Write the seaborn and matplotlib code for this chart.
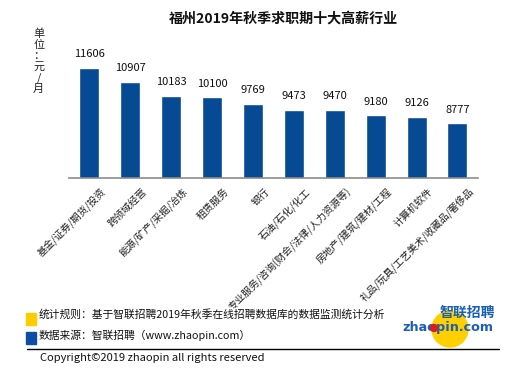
import matplotlib
matplotlib.use('Agg')
import matplotlib.pyplot as plt
import matplotlib.patches as mpatches
import matplotlib.transforms as mtransforms
import seaborn as sns
import pandas as pd

# 数据
industries = ['基金/证券/期货/投资', '跨领域经营', '能源/矿产/采掘/冶炼', '租赁服务', '银行',
              '石油/石化/化工', '专业服务/咨询(财会/法律/人力资源等)', '房地产/建筑/建材/工程',
              '计算机软件', '礼品/玩具/工艺美术/收藏品/奢侈品']
salary = [11606, 10907, 10183, 10100, 9769, 9473, 9470, 9180, 9126, 8777]

df = pd.DataFrame({'industry': industries, 'salary': salary})

sns.set_theme(style='white')
plt.rcParams['font.family'] = ['Noto Sans CJK SC', 'DejaVu Sans']

fig = plt.figure(figsize=(5.31, 3.76), dpi=100)
ax = fig.add_axes([0.130, 0.527, 0.770, 0.313])

sns.barplot(data=df, x='industry', y='salary', color='#064a94', saturation=1,
            width=0.49, ax=ax)
ax.set_ylim(6000, 12000)
ax.set_xlim(-0.5, len(industries) - 0.5)

# 数据标签
for i, v in enumerate(salary):
    ax.text(i, v + 430, f'{v}', ha='center', va='bottom', fontsize=8, color='#111111',
            clip_on=False)

# 坐标轴样式
for s in ['top', 'right', 'left']:
    ax.spines[s].set_visible(False)
ax.spines['bottom'].set_color('#8c8c8c')
ax.spines['bottom'].set_linewidth(1.2)
ax.set_yticks([])
ax.set_xlabel('')
ax.set_ylabel('')
ax.set_xticks(range(len(industries)))
ax.set_xticklabels(industries, rotation=45, ha='right', rotation_mode='anchor',
                   fontsize=7.2, color='#222222')
ax.tick_params(axis='x', which='major', length=0, pad=6)
ax.set_xticks([i - 0.5 for i in range(len(industries) + 1)], minor=True)
ax.tick_params(axis='x', which='minor', length=4, width=1, color='#8c8c8c', direction='out')
shift = mtransforms.ScaledTranslation(8 / 72, 0, fig.dpi_scale_trans)
for lab in ax.get_xticklabels():
    lab.set_transform(lab.get_transform() + shift)

# 标题与单位
fig.text(0.533, 0.950, '福州2019年秋季求职期十大高薪行业', ha='center', va='center',
         fontsize=10.1, fontweight='bold', color='#111111')
fig.text(0.073, 1 - 61 / 376, '单\n位\n：\n元\n/\n月', ha='center', va='center',
         fontsize=8, linespacing=1.12, color='#222222')

# 底部说明
fig.patches.append(mpatches.Rectangle((26 / 531, 1 - 325 / 376), 10 / 531, 12 / 376,
                                      transform=fig.transFigure, color='#ffcc00'))
fig.patches.append(mpatches.Rectangle((26 / 531, 1 - 344 / 376), 10 / 531, 12 / 376,
                                      transform=fig.transFigure, color='#0b4ea2'))
fig.text(39 / 531, 1 - 314 / 376, '统计规则：基于智联招聘2019年秋季在线招聘数据库的数据监测统计分析',
         ha='left', va='center', fontsize=7.75, color='#111111')
fig.text(39 / 531, 1 - 335 / 376, '数据来源：智联招聘（www.zhaopin.com）',
         ha='left', va='center', fontsize=7.75, color='#111111')
fig.add_artist(plt.Line2D([27 / 531, 499 / 531], [1 - 349 / 376, 1 - 349 / 376],
                          transform=fig.transFigure, color='black', linewidth=1))
fig.text(40 / 531, 1 - 358 / 376, 'Copyright©2019 zhaopin all rights reserved',
         ha='left', va='center', fontsize=8, color='#111111')

# 智联招聘 logo
fig.patches.append(mpatches.Ellipse((450 / 531, 1 - 329 / 376), 36 / 531, 36 / 376,
                                    transform=fig.transFigure, color='#ffd000'))
fig.patches.append(mpatches.Ellipse((434 / 531, 1 - 328 / 376), 7 / 531, 7 / 376,
                                    transform=fig.transFigure, color='#d62020', zorder=5))
fig.text(495 / 531, 1 - 313 / 376, '智联招聘', ha='right', va='center', fontsize=10,
         fontweight='bold', style='italic', color='#1a5fb4')
fig.text(493 / 531, 1 - 328 / 376, 'zhaopin.com', ha='right', va='center', fontsize=9.2,
         fontweight='bold', color='#1a5fb4', family='DejaVu Sans')

fig.savefig('out.png', dpi=100, facecolor='white')
